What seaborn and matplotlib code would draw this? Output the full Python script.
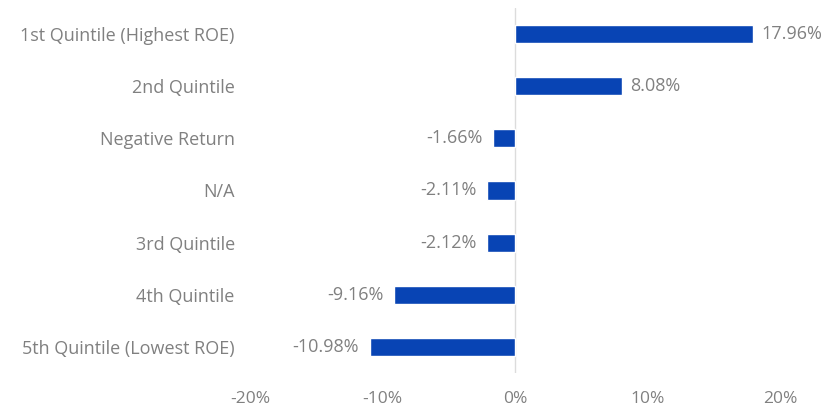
import matplotlib
matplotlib.use("Agg")
import matplotlib.pyplot as plt
import seaborn as sns
import pandas as pd

# Return by ROE bucket
categories = [
    "1st Quintile (Highest ROE)",
    "2nd Quintile",
    "Negative Return",
    "N/A",
    "3rd Quintile",
    "4th Quintile",
    "5th Quintile (Lowest ROE)",
]
returns = [17.96, 8.08, -1.66, -2.11, -2.12, -9.16, -10.98]
x_ticks = [-20, -10, 0, 10, 20]
x_tick_labels = ["-20%", "-10%", "0%", "10%", "20%"]

df = pd.DataFrame({"bucket": categories, "ret": returns})

sns.set_theme(style="white")
plt.rcParams["font.family"] = ["Open Sans", "DejaVu Sans"]

bar_color = "#0844b4"
text_color = "#808080"

fig = plt.figure(figsize=(8.26, 4.07), dpi=100)
ax = fig.add_axes([0.3027, 0.0835, 0.6416, 0.897])

sns.barplot(data=df, x="ret", y="bucket", orient="h", color=bar_color,
            width=0.35, saturation=1, ax=ax)

ax.axvline(0, color="#dcdcdc", lw=1, zorder=0)
ax.set_xlim(-20, 20)
ax.set_ylim(len(categories) - 0.5, -0.5)
ax.set_xticks(x_ticks)
ax.set_xticklabels(x_tick_labels)
ax.set_xlabel("")
ax.set_ylabel("")
for s in ax.spines.values():
    s.set_visible(False)
ax.tick_params(axis="x", length=0, labelsize=12.5, labelcolor=text_color, pad=13)
ax.tick_params(axis="y", length=0, labelsize=13, labelcolor=text_color, pad=11)

# value labels beside each bar end
for i, v in enumerate(returns):
    off = 6 if v >= 0 else -7.5
    ha = "left" if v >= 0 else "right"
    ax.annotate(f"{v:.2f}%", xy=(v, i), xytext=(off, 0),
                textcoords="offset points", ha=ha, va="center",
                fontsize=13, color=text_color)

fig.savefig("out.png", dpi=100)
